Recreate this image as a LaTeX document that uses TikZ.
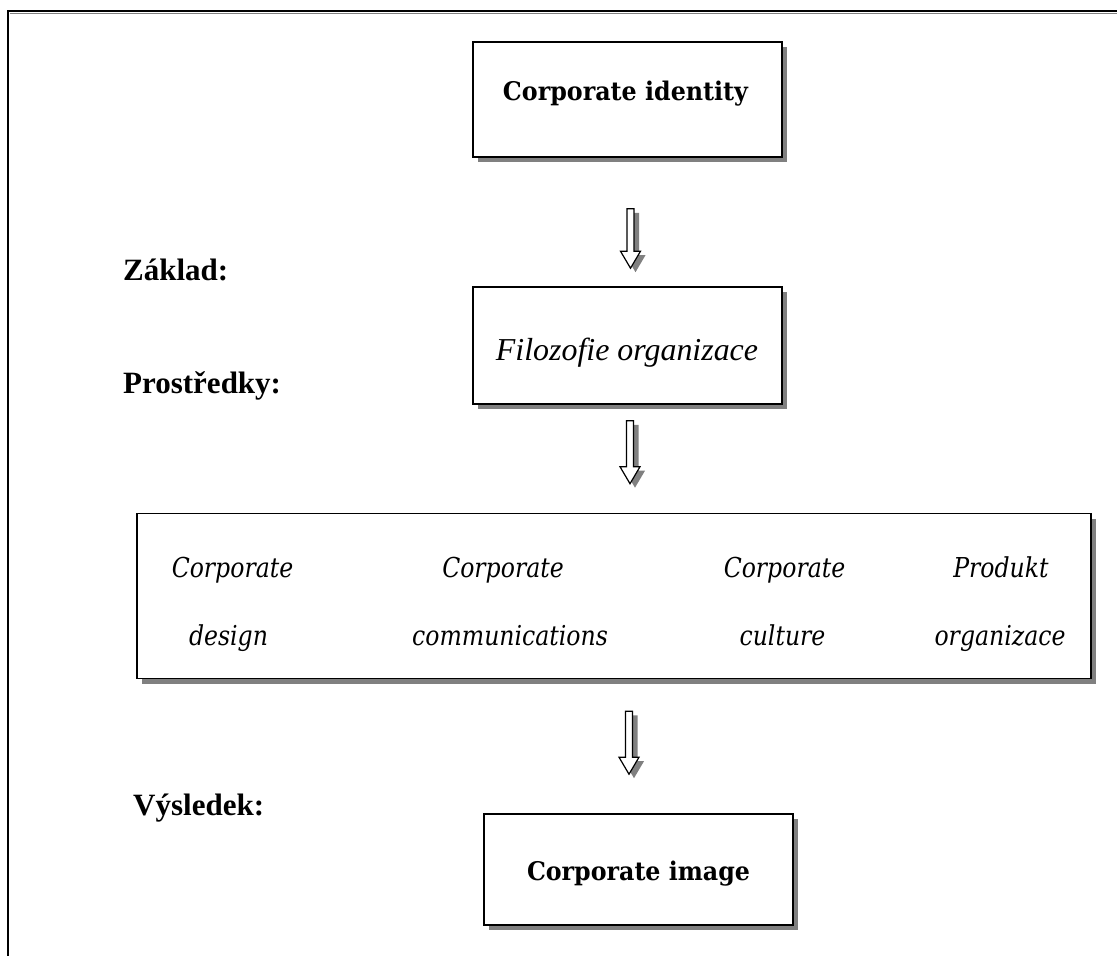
\documentclass[tikz,border=0pt]{standalone}
\usepackage{fontspec}
\usepackage{graphicx}
\setmainfont{Liberation Serif}
\newfontfamily\cambria{DejaVu Serif}
\newfontfamily\cambriaC[FakeStretch=0.86]{DejaVu Serif}
\usetikzlibrary{calc,shadows}
\definecolor{shadowgray}{RGB}{128,128,128}
\newcommand{\wtext}[2]{\resizebox{#1pt}{!}{#2}}
\newcommand{\whtext}[3]{\resizebox{#1pt}{#2pt}{#3}}
\newcommand{\ital}{\cambriaC\itshape\fontsize{27.4}{32}\selectfont}
\tikzset{
  box/.style={draw, line width=1.6pt, fill=white, inner sep=0pt,
    drop shadow={shadow xshift=5pt, shadow yshift=-5pt, fill=shadowgray, opacity=1}},
  lbl/.style={anchor=base west, inner sep=0pt, font=\fontsize{31}{36}\selectfont\bfseries},
  txt/.style={anchor=base, inner sep=0pt},
  arrowline/.style={draw=black, line width=1.2pt, fill=white, line join=miter},
  arrowshadow/.style={fill=shadowgray},
}
% outline of a block arrow from #1 (top centre) to #2 (tip), offset by (#3,#4)
\newcommand{\arrowpath}[4]{%
  ($(#1)+(-3.5+#3,#4)$) -- ($(#1)+(3.5+#3,#4)$) -- ($(#2)+(3.5+#3,-17+#4)$)
  -- ($(#2)+(10+#3,-17+#4)$) -- ($(#2)+(#3,#4)$) -- ($(#2)+(-10+#3,-17+#4)$)
  -- ($(#2)+(-3.5+#3,-17+#4)$) -- cycle}
\newcommand{\blockarrow}[2]{%
  \path[arrowshadow] \arrowpath{#1}{#2}{5}{4};
  \path[arrowline] \arrowpath{#1}{#2}{0}{0};
}
\begin{document}
\begin{tikzpicture}[x=1pt,y=-1pt]
\useasboundingbox (0,0) rectangle (1117,956);
% outer frame (top and left edges)
\coordinate (ftl) at (7.5,11);
\coordinate (ftr) at (1117,11);
\coordinate (fbl) at (7.5,956);
\draw[shadowgray, line width=1.5pt] ($(ftl)+(2,2.5)$) -- ($(ftr)+(0,2.5)$);
\draw[black, line width=2pt] (fbl) -- (ftl) -- (ftr);

% boxes
\node[box, minimum width=309pt, minimum height=115pt] (b1) at (627.5,99.5) {};
\node[box, minimum width=309pt, minimum height=117pt] (b2) at (627.5,345.5) {};
\node[box, minimum width=954pt, minimum height=165pt] (b3) at (614,596) {};
\node[box, minimum width=309pt, minimum height=111pt] (b4) at (638.5,869.5) {};

% box texts
\node[txt] (t1) at (625.5,100) {\whtext{245}{19.5}{\cambria\bfseries Corporate identity}};
\node[txt] (t2) at (627,360) {\wtext{262}{\itshape Filozofie organizace}};
\node[txt] (t4) at (638.5,880) {\whtext{223}{19.5}{\cambria\bfseries Corporate image}};

\node[txt] (c1a) at (232.5,577) {\ital Corporate};
\node[txt] (c1b) at (228.5,645) {\ital design};
\node[txt] (c2a) at (503,577) {\ital Corporate};
\node[txt, anchor=base west] (c2b) at (412,645) {\ital communications};
\node[txt] (c3a) at (784.5,577) {\ital Corporate};
\node[txt] (c3b) at (782.5,645) {\ital culture};
\node[txt] (c4a) at (1001,577) {\ital Produkt};
\node[txt] (c4b) at (1000,645) {\ital organizace};

% side labels
\node[lbl] (l1) at (123,280) {Základ:};
\node[lbl] (l2) at (123,393) {Prostředky:};
\node[lbl] (l3) at (133,815) {Výsledek:};

% arrows
\coordinate (a1s) at ($(b1.south)+(3,51)$);
\coordinate (a1e) at ($(b2.north)+(3,-18)$);
\coordinate (a2s) at ($(b2.south)+(2.5,16)$);
\coordinate (a2e) at ($(b3.north)+(16,-29)$);
\coordinate (a3s) at ($(b3.south)+(15,32)$);
\coordinate (a3e) at ($(b4.north)+(-9.5,-39)$);
\blockarrow{a1s}{a1e}
\blockarrow{a2s}{a2e}
\blockarrow{a3s}{a3e}
\end{tikzpicture}
\end{document}
